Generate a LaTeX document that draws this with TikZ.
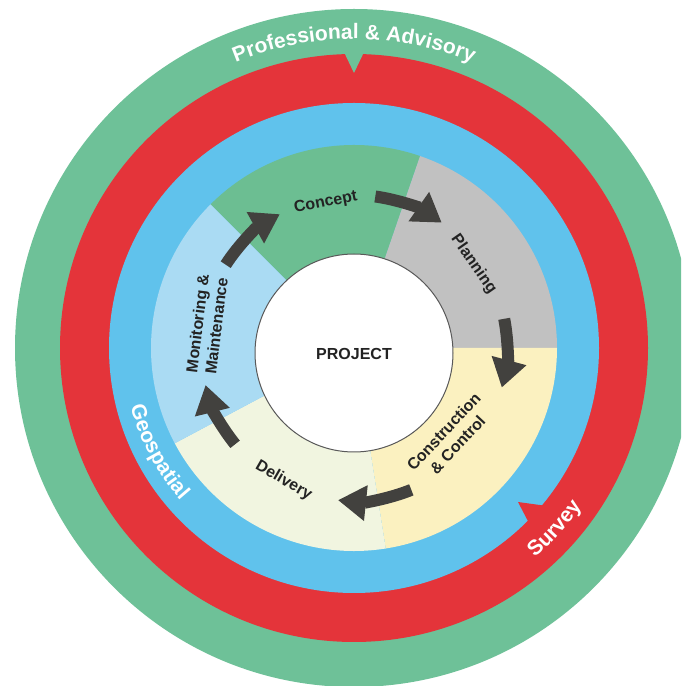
\documentclass[tikz,border=0pt]{standalone}
\usepackage{fontspec}
\setmainfont{Liberation Sans}
\usetikzlibrary{arrows.meta, decorations.text}

\definecolor{ringgreen}{RGB}{110,193,152}
\definecolor{ringred}{RGB}{228,52,58}
\definecolor{ringblue}{RGB}{96,194,236}
\definecolor{conceptgreen}{RGB}{108,190,146}
\definecolor{planninggray}{RGB}{193,193,193}
\definecolor{constructionyellow}{RGB}{251,241,192}
\definecolor{deliverypale}{RGB}{241,245,224}
\definecolor{monitoringblue}{RGB}{170,219,243}
\definecolor{arrowgray}{RGB}{66,65,62}
\definecolor{labelgray}{RGB}{35,35,35}

\newcommand\ringfont{\fontsize{21}{21}\selectfont\bfseries\color{white}}

\tikzset{
  stage/.style={font=\fontsize{16}{19}\selectfont\bfseries, text=labelgray, align=center, inner sep=0pt},
  cycle/.style={line width=12pt, draw=arrowgray, -{Triangle[width=34pt,length=28pt]}},
  ringlabel/.style={decorate, decoration={text along path, text align=center, text={#1}}}
}

\begin{document}
\begin{tikzpicture}[x=1pt,y=1pt]

\useasboundingbox (0,0) rectangle (681,686);
\clip (0,0) rectangle (681,686);
\fill[white] (0,0) rectangle (681,686);

\coordinate (c) at (354,338);

\fill[ringgreen] (c) circle (339);
\fill[ringred] (c) circle (294);
\fill[ringgreen] ([shift={(-11,298)}]c) -- ([shift={(11,298)}]c) -- ([shift={(0,275)}]c) -- cycle;
\fill[ringblue] (c) circle (245);
\fill[ringred] ([shift={(176,-177)}]c) -- ([shift={(164,-154)}]c) -- ([shift={(193,-158)}]c) -- cycle;

\foreach \a/\b/\col in {71/135/conceptgreen, 0/71/planninggray, -81/0/constructionyellow,
                        -152/-81/deliverypale, 135/208/monitoringblue}
{
	\fill[\col] ([shift={(\a:203)}]c) arc (\a:\b:203) -- ([shift={(\b:90)}]c) arc (\b:\a:90) -- cycle;
}

\node[circle, fill=white, draw=black!65, line width=1pt, minimum size=198pt, inner sep=0pt] (project) at ([shift={(0,-5)}]c) {};
\node[stage] (projectlabel) at ([shift={(0,-6)}]c) {PROJECT};

\node[stage, rotate=11] (concept) at ([shift={(101:148)}]c) {Concept};
\node[stage, rotate=-55] (planning) at ([shift={(35:146)}]c) {Planning};
\node[stage, rotate=47] (construction) at ([shift={(-43:132)}]c) {Construction\\\& Control};
\node[stage, rotate=-30] (delivery) at ([shift={(-118:150)}]c) {Delivery};
\node[stage, rotate=83] (monitoring) at ([shift={(171:149)}]c) {Monitoring \&\\Maintenance};

\foreach \s/\e in {82/55, 11/-15, -68/-96, -141/-166, 147/119}
{
	\draw[cycle] ([shift={(\s:153)}]c) arc (\s:\e:153);
}

\path[ringlabel={|\ringfont|Professional {\&} Advisory}] ([shift={(125:309)}]c) arc (125:55:309);
\path[ringlabel={|\ringfont|Survey}] ([shift={(-62:277)}]c) arc (-62:-22:277);
\path[ringlabel={|\ringfont|Geospatial}] ([shift={(188:231)}]c) arc (188:228:231);

\end{tikzpicture}
\end{document}
